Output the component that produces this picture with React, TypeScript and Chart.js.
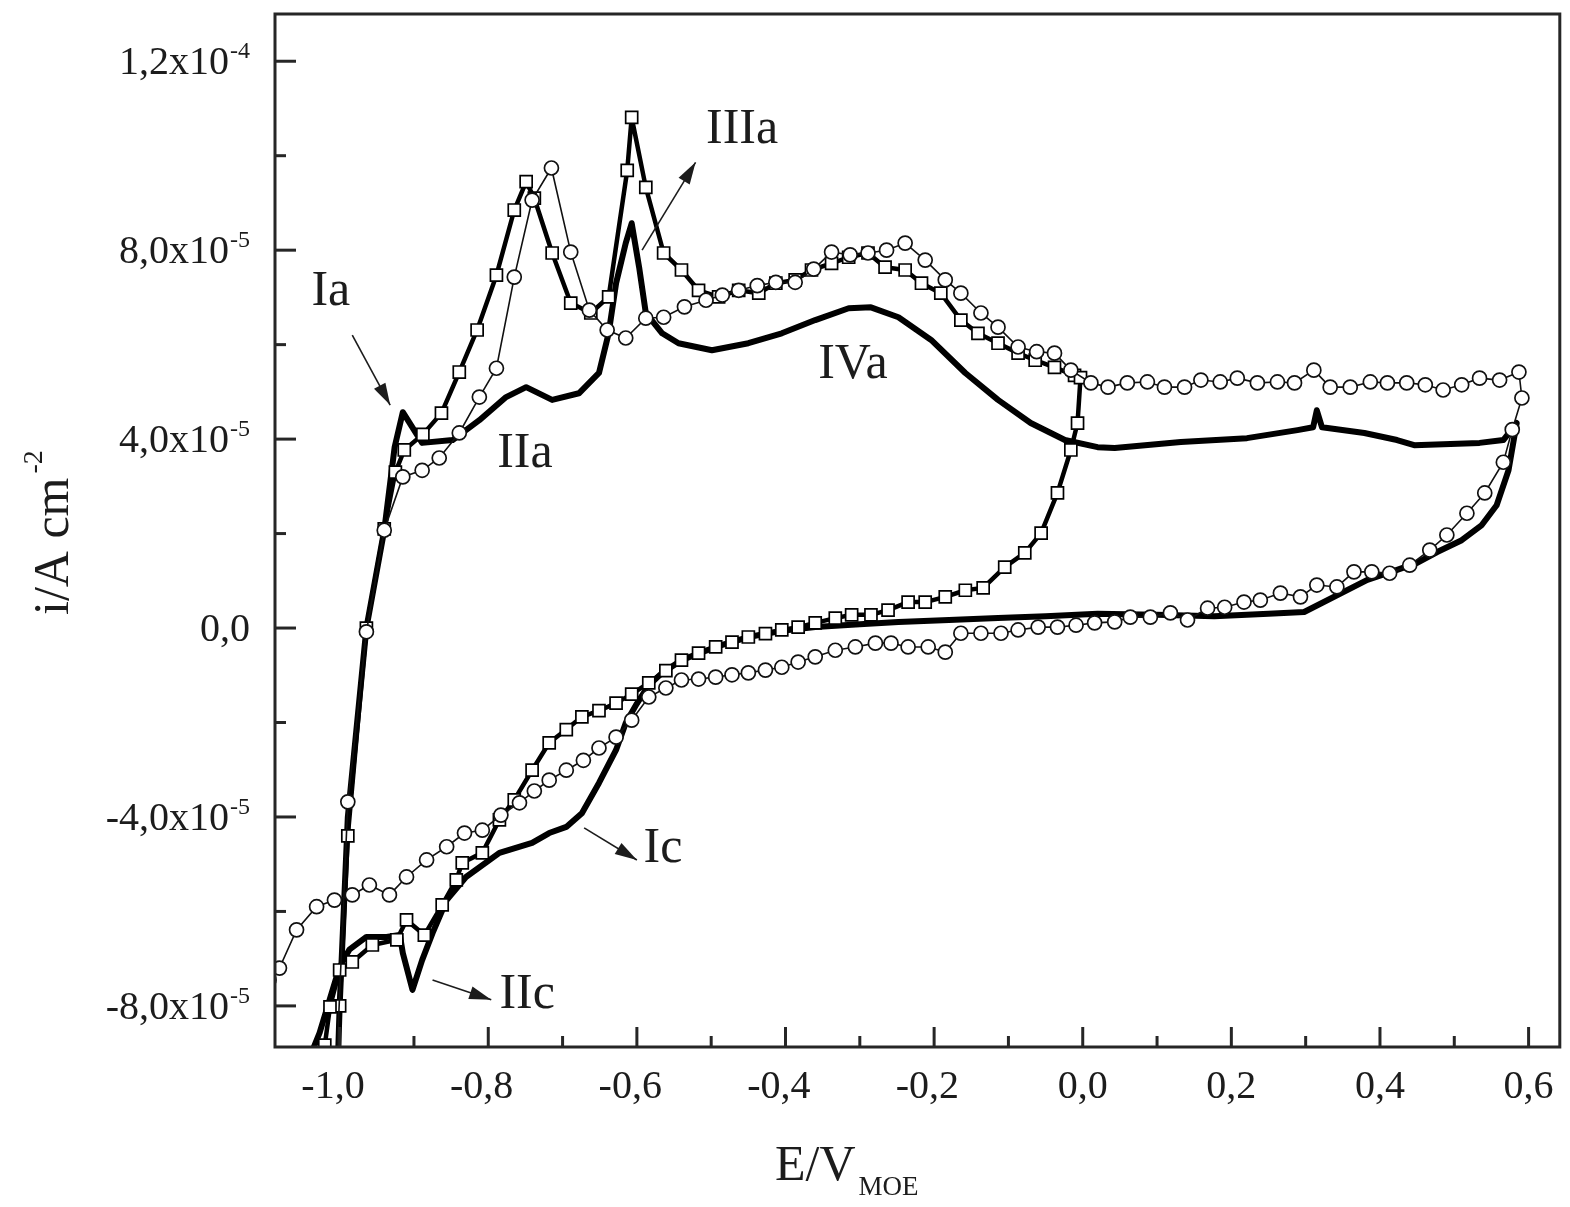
import React, { useEffect, useRef } from "react";
import { Chart, registerables } from "chart.js";

Chart.register(...registerables);

const FONT = "'Liberation Serif', 'Times New Roman', Times, serif";

// Axis ticks (E in V, i in units of 1e-5 A cm^-2)
const xMajorTicks = [-1.0, -0.8, -0.6, -0.4, -0.2, 0.0, 0.2, 0.4, 0.6];
const xMinorTicks = [-0.9, -0.7, -0.5, -0.3, -0.1, 0.1, 0.3, 0.5];
const xTickLabels = ["-1,0", "-0,8", "-0,6", "-0,4", "-0,2", "0,0", "0,2", "0,4", "0,6"];
const yMajorTicks = [-8, -4, 0, 4, 8, 12];
const yMinorTicks = [-6, -2, 2, 6, 10];
const yTickMantissa = ["-8,0", "-4,0", "0,0", "4,0", "8,0", "1,2"];
const yTickExponent = ["-5", "-5", "", "-5", "-5", "-4"];

const peakLabels = ["Ia", "IIa", "IIIa", "IVa", "Ic", "IIc"];

// Curve without markers (thick solid line): [E, i(1e-5)]
const solidCurve: number[][] = [
  [-1.003, -9.5], [-1.0, -8.0], [-0.989, -4.0], [-0.964, 0.0], [-0.94, 2.07], [-0.926, 3.83], [-0.915, 4.57],
  [-0.889, 3.92], [-0.848, 3.98], [-0.812, 4.4], [-0.776, 4.89], [-0.749, 5.1], [-0.714, 4.83], [-0.678, 4.97],
  [-0.651, 5.4], [-0.638, 6.24], [-0.628, 7.3], [-0.615, 8.15], [-0.607, 8.57], [-0.597, 7.64], [-0.588, 6.67],
  [-0.566, 6.24], [-0.544, 6.03], [-0.499, 5.88], [-0.45, 6.03], [-0.405, 6.24], [-0.36, 6.52], [-0.315, 6.77],
  [-0.285, 6.79], [-0.248, 6.58], [-0.204, 6.1], [-0.158, 5.4], [-0.114, 4.83], [-0.07, 4.34], [-0.024, 3.98],
  [0.02, 3.83], [0.043, 3.81], [0.132, 3.94], [0.221, 4.02], [0.289, 4.19], [0.31, 4.25], [0.315, 4.61],
  [0.322, 4.25], [0.379, 4.13], [0.423, 3.98], [0.446, 3.87], [0.534, 3.92], [0.566, 3.98], [0.584, 4.34],
  [0.573, 3.34], [0.557, 2.6], [0.537, 2.18], [0.51, 1.86], [0.477, 1.61], [0.45, 1.38], [0.423, 1.23],
  [0.383, 1.02], [0.298, 0.34], [0.25, 0.3], [0.177, 0.25], [0.1, 0.28], [0.02, 0.3], [-0.05, 0.25],
  [-0.114, 0.21], [-0.18, 0.17], [-0.248, 0.13], [-0.3, 0.08], [-0.36, 0.02], [-0.405, -0.06], [-0.45, -0.19],
  [-0.494, -0.4], [-0.54, -0.68], [-0.566, -0.95], [-0.584, -1.21], [-0.6, -1.6], [-0.615, -2.01], [-0.628, -2.58],
  [-0.651, -3.28], [-0.674, -3.92], [-0.695, -4.21], [-0.718, -4.34], [-0.741, -4.55], [-0.785, -4.76],
  [-0.83, -5.27], [-0.856, -5.76], [-0.875, -6.46], [-0.889, -7.03], [-0.902, -7.66], [-0.915, -6.88],
  [-0.919, -6.5], [-0.937, -6.54], [-0.964, -6.54], [-0.987, -6.81], [-1.0, -7.17], [-1.027, -8.57], [-1.047, -9.35],
];

// Curve with open squares
const squareCurve: number[][] = [
  [-1.003, -9.5], [-1.0, -8.0], [-0.989, -4.4], [-0.964, 0.0], [-0.94, 2.1], [-0.925, 3.3], [-0.913, 3.77],
  [-0.888, 4.1], [-0.863, 4.55], [-0.839, 5.42], [-0.815, 6.31], [-0.789, 7.47], [-0.765, 8.85], [-0.749, 9.45],
  [-0.738, 9.1], [-0.714, 7.94], [-0.689, 6.88], [-0.662, 6.67], [-0.638, 7.01], [-0.613, 9.69], [-0.607, 10.81],
  [-0.588, 9.33], [-0.564, 7.94], [-0.54, 7.58], [-0.517, 7.15], [-0.49, 7.01], [-0.463, 7.15], [-0.436, 7.09],
  [-0.413, 7.3], [-0.387, 7.37], [-0.365, 7.58], [-0.338, 7.72], [-0.315, 7.85], [-0.289, 7.94], [-0.266, 7.64],
  [-0.239, 7.58], [-0.217, 7.3], [-0.191, 7.09], [-0.164, 6.52], [-0.141, 6.24], [-0.114, 6.03], [-0.087, 5.82],
  [-0.064, 5.67], [-0.038, 5.52], [-0.011, 5.35], [-0.003, 5.3],
  [-0.007, 4.34], [-0.016, 3.77], [-0.034, 2.86], [-0.056, 2.01], [-0.078, 1.59], [-0.105, 1.29], [-0.134, 0.85],
  [-0.158, 0.8], [-0.185, 0.66], [-0.212, 0.55], [-0.235, 0.55], [-0.262, 0.38], [-0.285, 0.28], [-0.311, 0.28],
  [-0.333, 0.21], [-0.36, 0.11], [-0.383, 0.02], [-0.405, -0.04], [-0.427, -0.12], [-0.45, -0.19], [-0.472, -0.3],
  [-0.494, -0.4], [-0.517, -0.53], [-0.54, -0.68], [-0.561, -0.9], [-0.584, -1.16], [-0.607, -1.4], [-0.628, -1.59],
  [-0.651, -1.75], [-0.674, -1.88], [-0.695, -2.15], [-0.718, -2.43], [-0.741, -3.01], [-0.765, -3.64],
  [-0.785, -4.06], [-0.808, -4.76], [-0.835, -4.97], [-0.843, -5.33], [-0.862, -5.86], [-0.886, -6.5],
  [-0.91, -6.18], [-0.923, -6.6], [-0.956, -6.71], [-0.983, -7.07], [-1.0, -7.24], [-1.013, -8.02], [-1.02, -8.83],
  [-1.027, -9.35],
];

// Curve with open circles
const circleCurve: number[][] = [
  [-1.005, -9.6], [-0.989, -3.68], [-0.964, -0.08], [-0.94, 2.07], [-0.915, 3.2], [-0.889, 3.34], [-0.866, 3.6],
  [-0.839, 4.13], [-0.812, 4.89], [-0.789, 5.5], [-0.765, 7.43], [-0.741, 9.06], [-0.715, 9.74], [-0.689, 7.96],
  [-0.664, 6.73], [-0.64, 6.31], [-0.615, 6.14], [-0.588, 6.56], [-0.564, 6.58], [-0.536, 6.8], [-0.507, 6.94],
  [-0.485, 7.05], [-0.463, 7.15], [-0.438, 7.25], [-0.413, 7.32], [-0.387, 7.32], [-0.362, 7.6], [-0.338, 7.96],
  [-0.313, 7.9], [-0.289, 7.94], [-0.264, 8.0], [-0.239, 8.15], [-0.212, 7.79], [-0.185, 7.37], [-0.164, 7.09],
  [-0.137, 6.67], [-0.114, 6.37], [-0.087, 5.95], [-0.062, 5.85], [-0.038, 5.82], [-0.016, 5.46], [0.011, 5.19],
  [0.034, 5.1], [0.06, 5.19], [0.087, 5.21], [0.11, 5.1], [0.137, 5.1], [0.159, 5.25], [0.185, 5.21],
  [0.208, 5.29], [0.235, 5.19], [0.262, 5.21], [0.285, 5.19], [0.311, 5.46], [0.333, 5.1], [0.36, 5.1],
  [0.387, 5.21], [0.41, 5.19], [0.436, 5.19], [0.461, 5.15], [0.485, 5.04], [0.51, 5.15], [0.534, 5.29],
  [0.561, 5.25], [0.587, 5.42],
  [0.591, 4.87], [0.578, 4.2], [0.566, 3.51], [0.541, 2.86], [0.517, 2.43], [0.49, 1.97], [0.467, 1.65],
  [0.44, 1.33], [0.413, 1.16], [0.389, 1.19], [0.365, 1.19], [0.342, 0.87], [0.315, 0.91], [0.293, 0.66],
  [0.266, 0.74], [0.239, 0.59], [0.217, 0.55], [0.191, 0.44], [0.168, 0.42], [0.141, 0.17], [0.118, 0.32],
  [0.091, 0.23], [0.064, 0.23], [0.043, 0.13], [0.016, 0.11], [-0.009, 0.06], [-0.034, 0.02], [-0.06, 0.02],
  [-0.087, -0.04], [-0.11, -0.11], [-0.137, -0.11], [-0.164, -0.11], [-0.185, -0.51], [-0.208, -0.4],
  [-0.235, -0.4], [-0.258, -0.32], [-0.279, -0.32], [-0.306, -0.4], [-0.333, -0.47], [-0.36, -0.61],
  [-0.383, -0.72], [-0.405, -0.83], [-0.427, -0.89], [-0.45, -0.95], [-0.472, -0.99], [-0.494, -1.04],
  [-0.517, -1.08], [-0.54, -1.1], [-0.561, -1.27], [-0.584, -1.46], [-0.607, -1.95], [-0.628, -2.31],
  [-0.651, -2.54], [-0.672, -2.8], [-0.695, -3.01], [-0.718, -3.22], [-0.738, -3.45], [-0.758, -3.7],
  [-0.783, -3.96], [-0.808, -4.28], [-0.832, -4.34], [-0.856, -4.63], [-0.883, -4.91], [-0.91, -5.27],
  [-0.933, -5.65], [-0.96, -5.44], [-0.983, -5.65], [-1.007, -5.76], [-1.031, -5.9], [-1.058, -6.39],
  [-1.081, -7.2], [-1.095, -7.45],
];

const toPoints = (arr: number[][]) => arr.map(([x, y]) => ({ x, y }));

export default function App() {
  const ref = useRef<HTMLCanvasElement | null>(null);

  useEffect(() => {
    document.body.style.margin = "0";
    const canvas = ref.current;
    if (!canvas) return;

    const decor = {
      id: "decor",
      afterDraw(chart: any) {
        const ctx: CanvasRenderingContext2D = chart.ctx;
        const xs = chart.scales.x;
        const ys = chart.scales.y;
        const { left, right, top, bottom } = chart.chartArea;
        const X = (v: number) => xs.getPixelForValue(v);
        const Y = (v: number) => ys.getPixelForValue(v);
        const ink = "#1c1c1c";
        ctx.save();

        // frame
        ctx.strokeStyle = "#262626";
        ctx.lineWidth = 3;
        ctx.strokeRect(left, top, right - left, bottom - top);

        // ticks
        const seg = (x1: number, y1: number, x2: number, y2: number) => {
          ctx.beginPath();
          ctx.moveTo(x1, y1);
          ctx.lineTo(x2, y2);
          ctx.stroke();
        };
        ctx.lineWidth = 3;
        xMajorTicks.forEach((v) => seg(X(v), bottom, X(v), bottom - 20));
        xMinorTicks.forEach((v) => seg(X(v), bottom, X(v), bottom - 11));
        yMajorTicks.forEach((v) => seg(left, Y(v), left + 21, Y(v)));
        yMinorTicks.forEach((v) => seg(left, Y(v), left + 11, Y(v)));

        // x tick labels
        ctx.fillStyle = ink;
        ctx.textAlign = "left";
        ctx.textBaseline = "alphabetic";
        ctx.font = `40px ${FONT}`;
        xTickLabels.forEach((lab, i) => {
          const px = X(xMajorTicks[i]);
          const neg = lab.startsWith("-");
          const body = neg ? lab.slice(1) : lab;
          const w = ctx.measureText(body).width;
          ctx.fillText(body, px - w / 2, bottom + 51);
          if (neg) {
            const mw = ctx.measureText("-").width;
            ctx.fillText("-", px - w / 2 - mw, bottom + 51);
          }
        });

        // y tick labels
        yMajorTicks.forEach((v, i) => {
          const py = Y(v);
          const exp = yTickExponent[i];
          const main = exp ? `${yTickMantissa[i]}x10` : yTickMantissa[i];
          ctx.font = `40px ${FONT}`;
          const wm = ctx.measureText(main).width;
          ctx.font = `24px ${FONT}`;
          const ws = exp ? ctx.measureText(exp).width + 1 : 0;
          const x0 = left - 25 - wm - ws;
          ctx.font = `40px ${FONT}`;
          ctx.fillText(main, x0, py + 13);
          if (exp) {
            ctx.font = `24px ${FONT}`;
            ctx.fillText(exp, x0 + wm + 1, py - 3);
          }
        });

        // axis titles
        ctx.font = `50px ${FONT}`;
        ctx.fillText("E/V", 775, bottom + 133);
        const wev = ctx.measureText("E/V").width;
        ctx.font = `27px ${FONT}`;
        ctx.fillText("MOE", 775 + wev + 3, bottom + 148);

        ctx.save();
        ctx.translate(68, 615);
        ctx.rotate(-Math.PI / 2);
        ctx.font = `50px ${FONT}`;
        ctx.fillText("i/A cm", 0, 0);
        const wi = ctx.measureText("i/A cm").width;
        ctx.font = `28px ${FONT}`;
        ctx.fillText("-2", wi + 4, -26);
        ctx.restore();

        // peak annotations
        const arrow = (e1: number, i1: number, e2: number, i2: number) => {
          const x1 = X(e1), y1 = Y(i1), x2 = X(e2), y2 = Y(i2);
          ctx.strokeStyle = ink;
          ctx.lineWidth = 1.6;
          seg(x1, y1, x2, y2);
          const a = Math.atan2(y2 - y1, x2 - x1);
          const L = 22, W = 6.5;
          ctx.beginPath();
          ctx.moveTo(x2, y2);
          ctx.lineTo(x2 - L * Math.cos(a) + W * Math.sin(a), y2 - L * Math.sin(a) - W * Math.cos(a));
          ctx.lineTo(x2 - L * Math.cos(a) - W * Math.sin(a), y2 - L * Math.sin(a) + W * Math.cos(a));
          ctx.closePath();
          ctx.fill();
        };
        ctx.font = `50px ${FONT}`;
        const labelAnchors: number[][] = [
          [-1.038, 6.84], [-0.788, 3.41], [-0.507, 10.26], [-0.356, 5.29], [-0.591, -4.95], [-0.785, -8.04],
        ];
        peakLabels.forEach((t, i) => ctx.fillText(t, X(labelAnchors[i][0]), Y(labelAnchors[i][1])));
        arrow(-0.983, 6.2, -0.932, 4.72);
        arrow(-0.593, 8.0, -0.521, 9.86);
        arrow(-0.671, -4.23, -0.6, -4.91);
        arrow(-0.875, -7.45, -0.796, -7.87);

        ctx.restore();
      },
    };

    const chart = new Chart(canvas, {
      type: "scatter",
      data: {
        datasets: [
          {
            label: "circles",
            data: toPoints(circleCurve),
            showLine: true,
            borderColor: "#111",
            borderWidth: 1.6,
            tension: 0,
            pointStyle: "circle",
            pointRadius: 7,
            pointBackgroundColor: "#ffffff",
            pointBorderColor: "#111",
            pointBorderWidth: 1.7,
          },
          {
            label: "squares",
            data: toPoints(squareCurve),
            showLine: true,
            borderColor: "#000",
            borderWidth: 4.5,
            borderJoinStyle: "round",
            tension: 0,
            pointStyle: "rect",
            pointRadius: 8.5,
            pointBackgroundColor: "#ffffff",
            pointBorderColor: "#000",
            pointBorderWidth: 1.7,
          },
          {
            label: "solid",
            data: toPoints(solidCurve),
            showLine: true,
            borderColor: "#000",
            borderWidth: 6,
            borderJoinStyle: "round",
            tension: 0,
            pointRadius: 0,
          },
        ],
      } as any,
      options: {
        responsive: false,
        animation: false,
        devicePixelRatio: 1,
        events: [],
        layout: { padding: { left: 275, top: 14, right: 5, bottom: 160 } },
        plugins: { legend: { display: false }, tooltip: { enabled: false } },
        scales: {
          x: { type: "linear", min: -1.087, max: 0.642, display: false },
          y: { type: "linear", min: -8.87, max: 13.0, display: false },
        },
      } as any,
      plugins: [decor],
    });
    return () => chart.destroy();
  }, []);

  return <canvas ref={ref} width={1570} height={1207} style={{ display: "block" }} />;
}
